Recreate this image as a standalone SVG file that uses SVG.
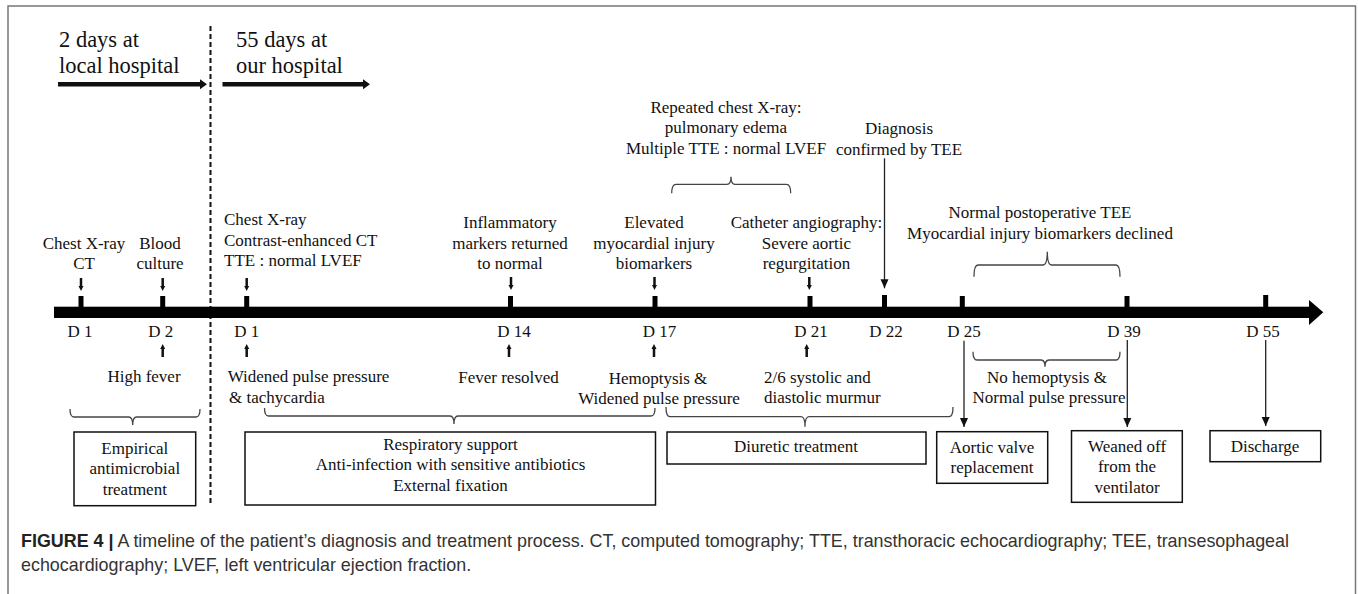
<svg xmlns="http://www.w3.org/2000/svg" width="1358" height="594" viewBox="0 0 1358 594">
<style>
.t{font-family:"Liberation Serif","Times New Roman",serif;font-size:17px;fill:#111}
.h{font-family:"Liberation Serif","Times New Roman",serif;font-size:22.5px;fill:#111}
.m{text-anchor:middle}
.box{fill:#fff;stroke:#111;stroke-width:1.5}
.br{fill:none;stroke:#444;stroke-width:1.3}
.ln{stroke:#222;stroke-width:1.3;fill:none}
.sa{stroke:#111;stroke-width:2.5}
.cap{font-family:"Liberation Sans",Arial,Helvetica,sans-serif;font-size:17.9px;fill:#333}
</style>
<defs>
<marker id="ah" markerWidth="10" markerHeight="10" refX="9" refY="5" orient="auto" markerUnits="userSpaceOnUse">
<path d="M0,1 L9,5 L0,9 Z" fill="#111"/>
</marker>
</defs>
<rect width="1358" height="594" fill="#fff"/>
<rect x="8" y="6" width="1347.5" height="600" fill="none" stroke="#777" stroke-width="1.5"/>

<g id="periods">
<text class="h" x="59" y="46.5">2 days at</text>
<text class="h" x="59" y="73">local hospital</text>
<line x1="58" y1="84.3" x2="201" y2="84.3" stroke="#111" stroke-width="4.5"/>
<polygon points="200,79.3 207,84.3 200,89.3" fill="#111"/>
<text class="h" x="236" y="46.5">55 days at</text>
<text class="h" x="236" y="73">our hospital</text>
<line x1="222.5" y1="84.3" x2="364" y2="84.3" stroke="#111" stroke-width="4.5"/>
<polygon points="363,79.3 370,84.3 363,89.3" fill="#111"/>
<line x1="210.5" y1="26" x2="210.5" y2="506" stroke="#111" stroke-width="2" stroke-dasharray="5,3"/>
</g>

<g id="axis">
<rect x="54" y="306.7" width="1256" height="11.3" fill="#000"/>
<polygon points="1309,300 1323.3,312.3 1309,325" fill="#000"/>
<rect x="78.5" y="296" width="5" height="12" fill="#000"/>
<rect x="160.2" y="296" width="5" height="12" fill="#000"/>
<rect x="244.2" y="296" width="5" height="12" fill="#000"/>
<rect x="508" y="296" width="5" height="12" fill="#000"/>
<rect x="652.5" y="296" width="5" height="12" fill="#000"/>
<rect x="807.5" y="296" width="5" height="12" fill="#000"/>
<rect x="882" y="295" width="5" height="13" fill="#000"/>
<rect x="959.8" y="296" width="5" height="12" fill="#000"/>
<rect x="1124.5" y="296" width="5" height="12" fill="#000"/>
<rect x="1263.2" y="295" width="5" height="13" fill="#000"/>
<text class="t m" x="80" y="337">D 1</text>
<text class="t m" x="160.8" y="337">D 2</text>
<text class="t m" x="246.7" y="337">D 1</text>
<text class="t m" x="514" y="337">D 14</text>
<text class="t m" x="659.6" y="337">D 17</text>
<text class="t m" x="811" y="337">D 21</text>
<text class="t m" x="886" y="337">D 22</text>
<text class="t m" x="964" y="337">D 25</text>
<text class="t m" x="1124" y="337">D 39</text>
<text class="t m" x="1263" y="337">D 55</text>
</g>

<g id="ev-chest-ct">
<text class="t m" x="84" y="249">Chest X-ray</text>
<text class="t m" x="84" y="269">CT</text>
</g>
<g id="ev-blood">
<text class="t m" x="160" y="249">Blood</text>
<text class="t m" x="160" y="269">culture</text>
</g>
<g id="ev-d1-exam">
<text class="t" x="224" y="225">Chest X-ray</text>
<text class="t" x="224" y="245.5">Contrast-enhanced CT</text>
<text class="t" x="224" y="266">TTE : normal LVEF</text>
</g>
<g id="ev-inflam">
<text class="t m" x="510" y="228.3">Inflammatory</text>
<text class="t m" x="510" y="249">markers returned</text>
<text class="t m" x="510" y="269.3">to normal</text>
</g>
<g id="ev-elevated">
<text class="t m" x="654" y="228.3">Elevated</text>
<text class="t m" x="654" y="249">myocardial injury</text>
<text class="t m" x="654" y="269.3">biomarkers</text>
</g>
<g id="ev-catheter">
<text class="t m" x="806.4" y="228.3">Catheter angiography:</text>
<text class="t m" x="806.4" y="249">Severe aortic</text>
<text class="t m" x="806.4" y="269.3">regurgitation</text>
</g>
<g id="ev-repeated">
<text class="t m" x="726" y="113.3">Repeated chest X-ray:</text>
<text class="t m" x="726" y="133.3">pulmonary edema</text>
<text class="t m" x="726" y="154">Multiple TTE : normal LVEF</text>
</g>
<g id="ev-diagnosis">
<text class="t m" x="899" y="133.5">Diagnosis</text>
<text class="t m" x="899" y="155">confirmed by TEE</text>
</g>
<g id="ev-postop">
<text class="t m" x="1040" y="218.3">Normal postoperative TEE</text>
<text class="t m" x="1040" y="238.5">Myocardial injury biomarkers declined</text>
</g>
<g id="ev-highfever">
<text class="t m" x="144" y="382">High fever</text>
</g>
<g id="ev-widened">
<text class="t" x="227.7" y="382">Widened pulse pressure</text>
<text class="t" x="229" y="402.5">&amp; tachycardia</text>
</g>
<g id="ev-feverres">
<text class="t m" x="508.5" y="383">Fever resolved</text>
</g>
<g id="ev-hemoptysis">
<text class="t m" x="658" y="383.5">Hemoptysis &amp;</text>
<text class="t m" x="659" y="404">Widened pulse pressure</text>
</g>
<g id="ev-murmur">
<text class="t" x="764" y="383.3">2/6 systolic and</text>
<text class="t" x="764" y="403.3">diastolic murmur</text>
</g>
<g id="ev-nohemo">
<text class="t m" x="1047" y="383.3">No hemoptysis &amp;</text>
<text class="t m" x="1049" y="403.3">Normal pulse pressure</text>
</g>

<g id="box-empirical">
<rect class="box" x="74" y="432" width="121.7" height="73.7"/>
<text class="t m" x="134.8" y="454">Empirical</text>
<text class="t m" x="134.8" y="474.3">antimicrobial</text>
<text class="t m" x="134.8" y="494.7">treatment</text>
</g>
<g id="box-respiratory">
<rect class="box" x="245" y="432" width="410.5" height="73"/>
<text class="t m" x="450.5" y="450">Respiratory support</text>
<text class="t m" x="450.5" y="470.3">Anti-infection with sensitive antibiotics</text>
<text class="t m" x="450.5" y="490.7">External fixation</text>
</g>
<g id="box-diuretic">
<rect class="box" x="667" y="432" width="259" height="32"/>
<text class="t m" x="796" y="451.7">Diuretic treatment</text>
</g>
<g id="box-aortic">
<rect class="box" x="936.7" y="431.7" width="111" height="51.6"/>
<text class="t m" x="992" y="452.7">Aortic valve</text>
<text class="t m" x="992" y="473.3">replacement</text>
</g>
<g id="box-weaned">
<rect class="box" x="1071.5" y="430.7" width="110.8" height="71.6"/>
<text class="t m" x="1127" y="451.7">Weaned off</text>
<text class="t m" x="1127" y="472">from the</text>
<text class="t m" x="1127" y="492.7">ventilator</text>
</g>
<g id="box-discharge">
<rect class="box" x="1210" y="430.7" width="110.7" height="31"/>
<text class="t m" x="1265" y="451.7">Discharge</text>
</g>

<g id="connectors">
<g class="sa">
<line x1="81" y1="278" x2="81" y2="287"/>
<line x1="162.7" y1="278" x2="162.7" y2="287"/>
<line x1="246.7" y1="278" x2="246.7" y2="287"/>
<line x1="511" y1="277" x2="511" y2="286"/>
<line x1="654.5" y1="277" x2="654.5" y2="286"/>
<line x1="809.3" y1="277" x2="809.3" y2="286"/>
<line x1="162.7" y1="348" x2="162.7" y2="357"/>
<line x1="246.7" y1="348" x2="246.7" y2="357"/>
<line x1="509" y1="348" x2="509" y2="357"/>
<line x1="654" y1="348" x2="654" y2="357"/>
<line x1="806.7" y1="348" x2="806.7" y2="357"/>
</g>
<g fill="#111">
<polygon points="78.5,286 83.5,286 81,291"/>
<polygon points="160.2,286 165.2,286 162.7,291"/>
<polygon points="244.2,286 249.2,286 246.7,291"/>
<polygon points="508.5,285 513.5,285 511,290"/>
<polygon points="652,285 657,285 654.5,290"/>
<polygon points="806.8,285 811.8,285 809.3,290"/>
<polygon points="160.2,349 165.2,349 162.7,344"/>
<polygon points="244.2,349 249.2,349 246.7,344"/>
<polygon points="506.5,349 511.5,349 509,344"/>
<polygon points="651.5,349 656.5,349 654,344"/>
<polygon points="804.2,349 809.2,349 806.7,344"/>
</g>
<line class="ln" x1="884.5" y1="158.3" x2="884.5" y2="288.3" marker-end="url(#ah)"/>
<line class="ln" x1="964" y1="340.7" x2="964" y2="427" marker-end="url(#ah)"/>
<line class="ln" x1="1127.3" y1="340" x2="1127.3" y2="427" marker-end="url(#ah)"/>
<line class="ln" x1="1265.7" y1="340" x2="1265.7" y2="426" marker-end="url(#ah)"/>
<path class="br" d="M671.7,193.3 Q671.7,184.3 676,184.3 L727,184.3 Q731,184.3 731,176.7 Q731,184.3 735,184.3 L786.5,184.3 Q790.7,184.3 790.7,193.3"/>
<path class="br" d="M974,276.7 Q974,265 978,265 L1043,265 Q1047.3,265 1047.3,251.7 Q1047.3,265 1051.5,265 L1116,265 Q1120,265 1120,276.7"/>
<path class="br" d="M70,409 Q70,417 74,417 L128.7,417 Q132.7,417 132.7,425 Q132.7,417 136.7,417 L196,417 Q200,417 200,409"/>
<path class="br" d="M264.5,408 Q264.5,416 268.5,416 L450,416 Q454,416 454,424 Q454,416 458,416 L651,416 Q655,416 655,408"/>
<path class="br" d="M666,407 Q666,416.7 670,416.7 L801,416.7 Q805,416.7 805,426.7 Q805,416.7 809,416.7 L949,416.7 Q953,416.7 953,407"/>
<path class="br" d="M973,351.7 Q973,360 977,360 L1041,360 Q1045,360 1045,366.7 Q1045,360 1049,360 L1116,360 Q1120,360 1120,351.7"/>
</g>

<g id="caption">
<text class="cap" x="21" y="546.5"><tspan font-weight="bold" fill="#222">FIGURE 4 |</tspan> A timeline of the patient’s diagnosis and treatment process. CT, computed tomography; TTE, transthoracic echocardiography; TEE, transesophageal</text>
<text class="cap" x="21" y="571">echocardiography; LVEF, left ventricular ejection fraction.</text>
</g>
</svg>
